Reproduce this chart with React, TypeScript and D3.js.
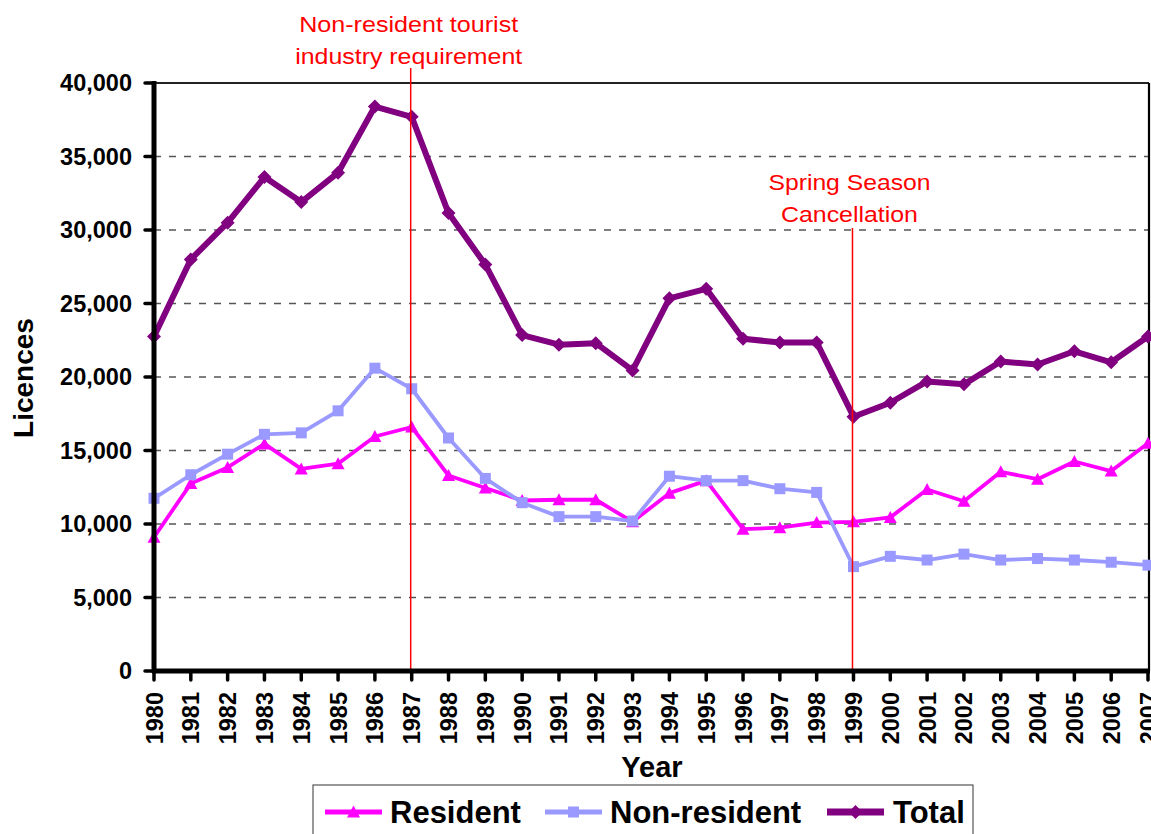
import React from "react";
import * as d3 from "d3";

const years = [
  "1980", "1981", "1982", "1983", "1984", "1985", "1986", "1987", "1988", "1989",
  "1990", "1991", "1992", "1993", "1994", "1995", "1996", "1997", "1998", "1999",
  "2000", "2001", "2002", "2003", "2004", "2005", "2006", "2007",
];

const resident = [
  9100, 12750, 13850, 15450, 13750, 14100, 15950, 16600, 13300, 12450,
  11600, 11650, 11650, 10150, 12100, 12950, 9650, 9750, 10100, 10150,
  10450, 12350, 11550, 13550, 13050, 14250, 13600, 15500,
];

const nonResident = [
  11750, 13350, 14750, 16100, 16200, 17700, 20600, 19200, 15850, 13100,
  11450, 10500, 10500, 10200, 13250, 12950, 12950, 12400, 12150, 7100,
  7800, 7550, 7950, 7550, 7650, 7550, 7400, 7200,
];

const total = [
  22750, 28000, 30500, 33600, 31900, 33900, 38400, 37700, 31150, 27650,
  22850, 22200, 22300, 20450, 25350, 26000, 22600, 22350, 22350, 17300,
  18250, 19700, 19500, 21050, 20850, 21750, 21000, 22750,
];

const yTicks = [0, 5000, 10000, 15000, 20000, 25000, 30000, 35000, 40000];

const annotations = [
  {
    year: "1987",
    lines: ["Non-resident tourist", "industry requirement"],
    widths: [219, 227],
    top: 32,
    lineStart: 68,
    dx: -3,
  },
  {
    year: "1999",
    lines: ["Spring Season", "Cancellation"],
    widths: [162, 137],
    top: 190,
    lineStart: 228,
    dx: -4,
  },
];

const FONT = "Arial, 'Liberation Sans', Helvetica, sans-serif";

const triPath = "M0,-6.5L6.5,5.5L-6.5,5.5Z";
const sqPath = "M-5.5,-5.5H5.5V5.5H-5.5Z";
const diaPath = "M0,-7L7,0L0,7L-7,0Z";

export default function App() {
  const left = 154;
  const right = 1148;
  const top = 83;
  const bottom = 671;

  const x = d3.scalePoint<string>().domain(years).range([left, right]);
  const y = d3.scaleLinear().domain([0, 40000]).range([bottom, top]);

  const line = d3
    .line<number>()
    .x((_, i) => x(years[i]) as number)
    .y((d) => y(d));

  const series = [
    { name: "Resident", values: resident, color: "#FF00FF", width: 3.8, marker: triPath },
    { name: "Non-resident", values: nonResident, color: "#9999FF", width: 3.8, marker: sqPath },
    { name: "Total", values: total, color: "#800080", width: 6, marker: diaPath },
  ];

  const legendItems = [
    { s: series[0], lx: 325, tx: 390 },
    { s: series[1], lx: 545, tx: 610 },
    { s: series[2], lx: 827, tx: 893 },
  ];

  return (
    <svg
      width={1151}
      height={834}
      style={{ position: "absolute", left: 0, top: 0, background: "#fff" }}
      fontFamily={FONT}
    >
      {/* gridlines */}
      {yTicks
        .filter((t) => t > 0 && t < 40000)
        .map((t) => (
          <line
            key={"g" + t}
            x1={left}
            x2={right}
            y1={y(t)}
            y2={y(t)}
            stroke="#555"
            strokeWidth={1.5}
            strokeDasharray="7,8"
          />
        ))}
      {/* frame top and right */}
      <line x1={left} x2={right + 1} y1={top} y2={top} stroke="#222" strokeWidth={1.8} />
      <line x1={right + 1} x2={right + 1} y1={top} y2={bottom} stroke="#000" strokeWidth={2.2} />

      {/* series */}
      {series.map((s) => (
        <g key={s.name}>
          <path d={line(s.values) || ""} fill="none" stroke={s.color} strokeWidth={s.width} strokeLinejoin="round" />
          {s.values.map((v, i) => (
            <path
              key={i}
              d={s.marker}
              transform={`translate(${x(years[i])},${y(v)})`}
              fill={s.color}
            />
          ))}
        </g>
      ))}

      {/* annotation lines */}
      {annotations.map((a) => (
        <g key={a.year}>
          <line
            x1={(x(a.year) as number) - 1}
            x2={(x(a.year) as number) - 1}
            y1={a.lineStart}
            y2={bottom}
            stroke="#FF0000"
            strokeWidth={1.5}
          />
          {a.lines.map((l, i) => (
            <text
              key={i}
              x={(x(a.year) as number) + a.dx}
              y={a.top + i * 31.5}
              textAnchor="middle"
              fill="#FF0000"
              fontSize={22.5}
              textLength={a.widths[i]}
              lengthAdjust="spacingAndGlyphs"
            >
              {l}
            </text>
          ))}
        </g>
      ))}

      {/* y axis */}
      <line x1={left} x2={left} y1={top - 2} y2={bottom + 2} stroke="#000" strokeWidth={5} />
      {yTicks.map((t) => (
        <g key={"yt" + t}>
          <line x1={left - 9} x2={left} y1={y(t)} y2={y(t)} stroke="#000" strokeWidth={3.5} strokeLinecap="round" />
          <text
            x={132}
            y={y(t)}
            dy="0.36em"
            textAnchor="end"
            fontWeight="bold"
            fontSize={23.5}
          >
            {d3.format(",")(t)}
          </text>
        </g>
      ))}

      {/* x axis */}
      <line x1={left - 2} x2={right + 2} y1={bottom} y2={bottom} stroke="#000" strokeWidth={5} />
      {years.map((yr) => (
        <g key={"xt" + yr}>
          <line
            x1={x(yr)}
            x2={x(yr)}
            y1={bottom}
            y2={bottom + 9}
            stroke="#000"
            strokeWidth={3.5}
            strokeLinecap="round"
          />
          <text
            transform={`translate(${(x(yr) as number) + 8.5},${692}) rotate(-90)`}
            textAnchor="end"
            fontWeight="bold"
            fontSize={23.5}
          >
            {yr}
          </text>
        </g>
      ))}

      {/* axis titles */}
      <text x={652} y={777} textAnchor="middle" fontWeight="bold" fontSize={29}>
        Year
      </text>
      <text
        transform="translate(33,378) rotate(-90)"
        textAnchor="middle"
        fontWeight="bold"
        fontSize={28}
      >
        Licences
      </text>

      {/* legend */}
      <rect x={313} y={785} width={660} height={60} fill="#fff" stroke="#555" strokeWidth={1.2} />
      {legendItems.map(({ s, lx, tx }) => (
        <g key={"lg" + s.name}>
          <line x1={lx} x2={lx + 57} y1={812} y2={812} stroke={s.color} strokeWidth={s.width + 1} />
          <path d={s.marker} transform={`translate(${lx + 28.5},812)`} fill={s.color} />
          <text x={tx} y={823} fontWeight="bold" fontSize={31}>
            {s.name}
          </text>
        </g>
      ))}
    </svg>
  );
}
